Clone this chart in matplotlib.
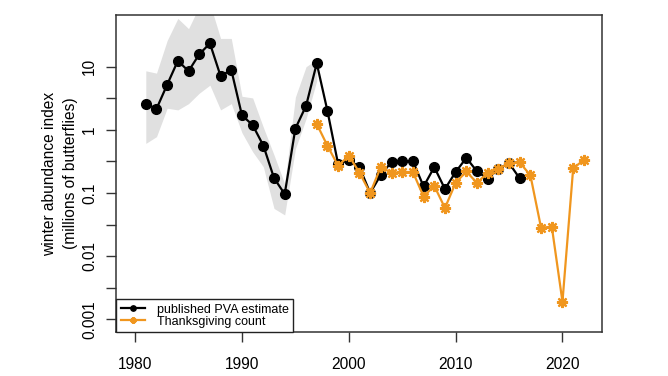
import matplotlib
matplotlib.use("Agg")
import matplotlib.pyplot as plt
import numpy as np

plt.rcParams['font.family'] = ['Liberation Sans', 'DejaVu Sans']

# published PVA estimate (millions of butterflies)
pva_years = list(range(1981, 2017))
pva_values = [2.6, 2.15, 5.2, 12.4, 8.5, 15.7, 23.4, 7.1, 8.9, 1.7,
              1.19, 0.565, 0.173, 0.096, 1.05, 2.4, 11.3, 2.0, 0.287, 0.336,
              0.257, 0.1, 0.195, 0.31, 0.32, 0.32, 0.127, 0.257, 0.116, 0.215,
              0.36, 0.22, 0.168, 0.24, 0.298, 0.17]

# uncertainty band around the early estimates
band_years = list(range(1981, 1998))
band_lower = [0.61, 0.78, 2.2, 2.07, 2.6, 3.8, 5.1, 2.07, 2.6, 0.9,
              0.45, 0.26, 0.057, 0.045, 0.5, 1.5, 6.0]
band_upper = [8.6, 7.9, 26, 58, 40, 90, 100, 28, 28, 3.4,
              3.2, 1.1, 0.4, 0.14, 3.3, 10, 13]

# Thanksgiving count (millions of butterflies)
tg_years = list(range(1997, 2023))
tg_values = [1.24, 0.56, 0.27, 0.39, 0.21, 0.1, 0.26, 0.207, 0.215, 0.215,
             0.088, 0.13, 0.058, 0.145, 0.22, 0.144, 0.21, 0.24, 0.295, 0.305,
             0.19, 0.028, 0.0295, 0.0019, 0.245, 0.335]

xticks = [1980, 1990, 2000, 2010, 2020]
ytick_labels = ['0.001', '0.01', '0.1', '1', '10']

orange = '#F0961E'

fig = plt.figure(figsize=(6.68, 3.76), dpi=100)
ax = fig.add_axes([0.1743, 0.1170, 0.7269, 0.8431])

ax.fill_between(band_years, band_lower, band_upper, color='#E0E0E0', lw=0, zorder=1)
ax.plot(pva_years, pva_values, color='black', lw=1.6, marker='o', ms=7,
        label='published PVA estimate', zorder=3)
ax.plot(tg_years, tg_values, color=orange, lw=1.6, marker=(8, 2, 0), ms=8,
        mew=1.6, label='Thanksgiving count', zorder=4)

ax.set_yscale('log')
ax.set_xlim(1978.25, 2023.7)
ax.set_ylim(10 ** -3.2, 10 ** 1.818)

yt = [10.0 ** (k / 2) for k in range(-6, 3)]
ax.set_yticks(yt)
ax.set_yticklabels([ytick_labels[i // 2] if i % 2 == 0 else '' for i in range(len(yt))],
                   rotation=90, va='center')
ax.yaxis.set_minor_locator(matplotlib.ticker.NullLocator())
ax.set_xticks(xticks)
ax.set_xticklabels([str(x) for x in xticks])
ax.tick_params(axis='both', labelsize=11.2, length=7, width=1, color='#333333')
ax.tick_params(axis='x', pad=11)
ax.tick_params(axis='y', pad=7)

for s in ax.spines.values():
    s.set_linewidth(1.1)
    s.set_color('#333333')

fig.text(50 / 668, 1 - 173.5 / 376, 'winter abundance index', rotation=90,
         ha='center', va='center', fontsize=11.2)
fig.text(70 / 668, 1 - 173.5 / 376, '(millions of butterflies)', rotation=90,
         ha='center', va='center', fontsize=11.2)

leg = ax.legend(loc='lower left', bbox_to_anchor=(0, 0), borderaxespad=0,
                fontsize=9, handlelength=1.9, handletextpad=1.0, labelspacing=0.0,
                borderpad=0.35, markerscale=0.55, fancybox=False, framealpha=1,
                edgecolor='#222222')
leg.get_frame().set_linewidth(1.0)

fig.savefig('out.png', dpi=100)
